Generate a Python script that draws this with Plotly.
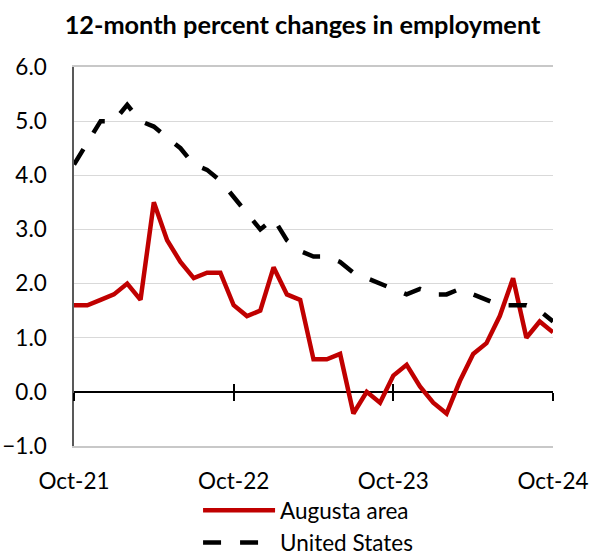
import plotly.graph_objects as go

# Monthly categories, Oct-21 through Oct-24
months = ["Oct-21", "Nov-21", "Dec-21", "Jan-22", "Feb-22", "Mar-22", "Apr-22",
          "May-22", "Jun-22", "Jul-22", "Aug-22", "Sep-22", "Oct-22", "Nov-22",
          "Dec-22", "Jan-23", "Feb-23", "Mar-23", "Apr-23", "May-23", "Jun-23",
          "Jul-23", "Aug-23", "Sep-23", "Oct-23", "Nov-23", "Dec-23", "Jan-24",
          "Feb-24", "Mar-24", "Apr-24", "May-24", "Jun-24", "Jul-24", "Aug-24",
          "Sep-24", "Oct-24"]

# 12-month percent change in employment
augusta = [1.6, 1.6, 1.7, 1.8, 2.0, 1.7, 3.5, 2.8, 2.4, 2.1, 2.2, 2.2, 1.6,
           1.4, 1.5, 2.3, 1.8, 1.7, 0.6, 0.6, 0.7, -0.4, 0.0, -0.2, 0.3, 0.5,
           0.1, -0.2, -0.4, 0.2, 0.7, 0.9, 1.4, 2.1, 1.0, 1.3, 1.1]
united_states = [4.2, 4.6, 5.0, 5.0, 5.3, 5.0, 4.9, 4.7, 4.5, 4.2, 4.1, 3.9,
                 3.6, 3.3, 3.0, 3.2, 2.8, 2.6, 2.5, 2.5, 2.4, 2.2, 2.1, 2.0,
                 1.9, 1.8, 1.9, 1.8, 1.8, 1.9, 1.8, 1.7, 1.6, 1.6, 1.6, 1.5,
                 1.3]

year_ticks = ["Oct-21", "Oct-22", "Oct-23", "Oct-24"]
y_ticks = [-1, 0, 1, 2, 3, 4, 5, 6]

FONT = "Lato"
RED = "#C00000"

fig = go.Figure()
fig.add_trace(go.Scatter(x=months, y=augusta, name="Augusta area", mode="lines",
                         line=dict(color=RED, width=4.5)))
fig.add_trace(go.Scatter(x=months, y=united_states, name="United States",
                         mode="lines",
                         line=dict(color="black", width=4.5, dash="18px,19px")))

y_lo, y_hi = -1, 6
zero_pos = (0 - y_lo) / (y_hi - y_lo)
n_last = len(months) - 1
tick_idx = [months.index(m) for m in year_ticks]

# empty carrier traces so the tick-only overlay axes get drawn
for ax in ("x2", "x3"):
    fig.add_trace(go.Scatter(x=[0, n_last], y=[None, None], xaxis=ax, yaxis="y",
                             mode="lines", showlegend=False, hoverinfo="skip"))

# crossing tick marks on the zero line: one axis ticks down, one ticks up
cross_common = dict(overlaying="x", anchor="free", position=zero_pos,
                    type="linear", range=[0, n_last], tickvals=tick_idx,
                    showticklabels=False, showgrid=False, zeroline=False,
                    showline=False, ticklen=8, tickwidth=1.5,
                    tickcolor="black")

fig.update_layout(
    width=592, height=552,
    margin=dict(l=74, r=38.5, t=67, b=106.3, autoexpand=False),
    paper_bgcolor="white", plot_bgcolor="white",
    font=dict(family=FONT, size=22.5, color="black"),
    title=dict(text="<b>12-month percent changes in employment</b>",
               x=0.511, xanchor="center", y=0.954, yanchor="middle",
               font=dict(family=FONT, size=25.3, color="black")),
    xaxis=dict(type="category", categoryorder="array", categoryarray=months,
               range=[0, n_last], tickmode="array", tickvals=year_ticks,
               ticktext=year_ticks, ticks="", showgrid=False,
               showline=True, linecolor="#C8C8C8", linewidth=1.5, mirror=True,
               ticklabelstandoff=14, zeroline=False, automargin=False),
    xaxis2=dict(ticks="outside", **cross_common),
    xaxis3=dict(ticks="inside", **cross_common),
    yaxis=dict(range=[y_lo, y_hi], tickvals=y_ticks, tickformat=".1f",
               showgrid=True, gridcolor="#D9D9D9", gridwidth=1.3,
               zeroline=True, zerolinecolor="black", zerolinewidth=1.5,
               showline=True, linecolor="#595959", linewidth=1.5,
               ticks="", ticklabelstandoff=21, automargin=False),
    legend=dict(x=0.259, xanchor="left", y=-0.114, yanchor="top",
                orientation="v", bgcolor="rgba(0,0,0,0)",
                font=dict(family=FONT, size=22.5, color="black"),
                itemwidth=72, tracegroupgap=0),
    showlegend=True,
)

fig.write_html("out.html")
